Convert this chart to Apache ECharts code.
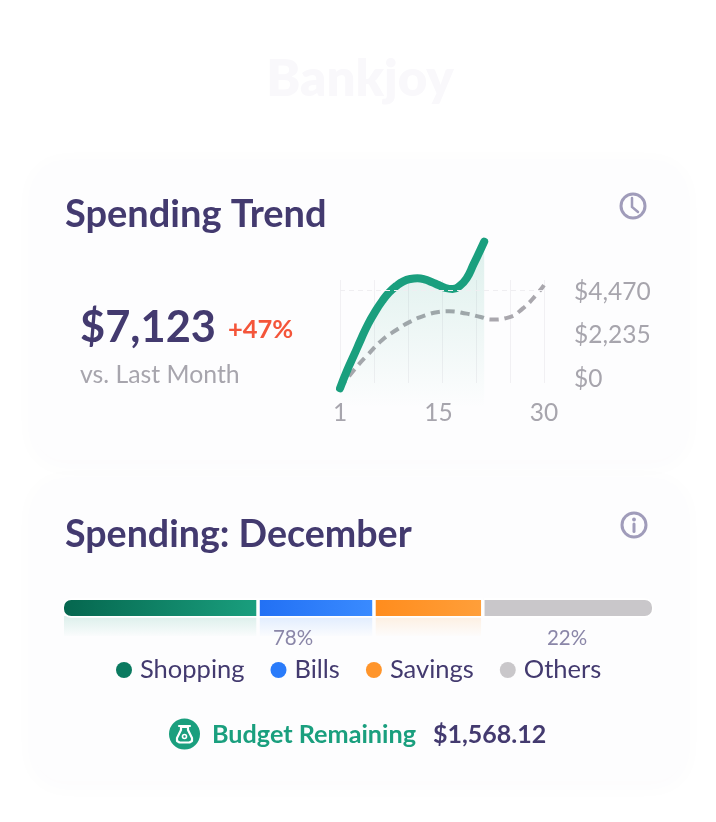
<!DOCTYPE html>
<html>
<head>
<meta charset="utf-8">
<style>html,body{margin:0;padding:0;background:#fff}#c{width:716px;height:822px}</style>
<script src="https://cdn.jsdelivr.net/npm/echarts@6/dist/echarts.min.js"></script>
</head>
<body>
<div id="c"></div>
<script>
// ---- data ----
const currentDays = [1,2,3,4,5,6,7,8,9,10,11,12,13,14,15,16,17,18,19,20,21,21.5];
const currentSpend = [-583,325,1130,1953,2723,3357,3905,4351,4676,4916,5036,5070,5019,4882,4728,4574,4522,4676,5070,5807,6561,6954];
const previousDays = [1,3,5,7,9,11,13,15,16.5,19,21,22.5,25,27,29,30];
const previousSpend = [-582,360,1164,1901,2415,2844,3152,3340,3380,3255,3083,2950,3066,3528,4265,4727];
const dayTicks = [1,15,30];
const spendTicks = [0,2235,4470];
const categories = ['Shopping','Bills','Savings','Others'];
const shares = [33.1,19.6,18.4,28.9];
const shareColors = [['#05664e','#1a9f7e'],['#2270f4','#3a8bff'],['#ff8c1d','#ff9f3a'],['#c9c7ca','#c9c7ca']];
const legendColors = ['#0b7a60','#2a7bfa','#ff952b','#c9c7ca'];
const shareFade = ['26,159,126','58,139,255','255,159,58','255,255,255'];

// ---- style ----
const FONT = 'Lato, "Noto Sans", sans-serif';
const INK = '#433a6f', GREY = '#a7a5ad', GREEN = '#1a9f7e';
const grad = (a,b,horizontal) => new echarts.graphic.LinearGradient(0,0,horizontal?1:0,horizontal?0:1,[{offset:0,color:a},{offset:1,color:b}]);
const txt = (text,x,y,size,weight,fill,align) => ({type:'text',silent:true,z:5,style:{text,x,y,fill,align:align||'left',verticalAlign:'middle',font:`${weight} ${size}px ${FONT}`}});
const card = (y,h) => ({type:'rect',silent:true,z:0,shape:{x:33,y,width:652,height:h,r:30},style:{fill:'#fdfdfe',shadowBlur:24,shadowColor:'rgba(70,60,120,0.025)',shadowOffsetY:4}});

const chart = echarts.init(document.getElementById('c'),null,{renderer:'canvas'});
chart.setOption({
  animation:false,
  backgroundColor:'#fff',
  textStyle:{fontFamily:FONT},
  graphic:[
    card(160,300), card(478,303),
    {type:'text',silent:true,z:1,style:{text:'Bankjoy',x:360,y:80,fill:'#f9f8fb',align:'center',verticalAlign:'middle',font:`800 51px ${FONT}`}},
    txt('Spending Trend',65,215,38,700,INK),
    txt('$7,123',80,328,43.4,700,INK),
    txt('+47%',228,330,25.5,700,'#f4553a'),
    txt('vs. Last Month',80,375,24.8,400,GREY),
    txt('Spending: December',65,535,37.6,700,INK),
    txt('78%',293,638,20.5,400,'#8a86a8','center'),
    txt('22%',567,638,20.5,400,'#8a86a8','center'),
    txt('Budget Remaining',212,735,25.2,700,GREEN),
    txt('$1,568.12',433,735,25,700,INK),
    // clock icon
    {type:'circle',silent:true,z:5,shape:{cx:633,cy:206,r:12},style:{fill:'none',stroke:'#a09cba',lineWidth:3}},
    {type:'polyline',silent:true,z:5,shape:{points:[[632,198],[632,207],[638,212]]},style:{fill:'none',stroke:'#a09cba',lineWidth:2.5,lineCap:'round'}},
    // info icon
    {type:'circle',silent:true,z:5,shape:{cx:634,cy:525,r:12},style:{fill:'none',stroke:'#a09cba',lineWidth:3}},
    {type:'circle',silent:true,z:5,shape:{cx:634,cy:519.5,r:1.9},style:{fill:'#a09cba'}},
    {type:'line',silent:true,z:5,shape:{x1:634,y1:524,x2:634,y2:531.5},style:{stroke:'#a09cba',lineWidth:3,lineCap:'round'}},
    // money bag icon
    {type:'circle',silent:true,z:5,shape:{cx:184.5,cy:734,r:15.5},style:{fill:GREEN}},
    {type:'line',silent:true,z:6,shape:{x1:179,y1:726,x2:190,y2:726},style:{stroke:'#fff',lineWidth:2.2,lineCap:'round'}},
    {type:'polygon',silent:true,z:6,shape:{points:[[181,727],[181,730],[177,738],[177,741],[179.5,742.5],[189.5,742.5],[192,741],[192,738],[188,730],[188,727]]},style:{fill:'none',stroke:'#fff',lineWidth:2.2,lineJoin:'round'}},
    {type:'circle',silent:true,z:6,shape:{cx:184.5,cy:736.5,r:2},style:{fill:'none',stroke:'#fff',lineWidth:1.6}}
  ],
  legend:{
    show:true,left:116,top:657,padding:0,selectedMode:false,icon:'circle',itemWidth:16,itemHeight:16,itemGap:26,
    data:categories,itemStyle:{borderWidth:0},
    textStyle:{color:INK,fontSize:25.5,fontFamily:FONT,padding:[0,0,0,3]}
  },
  grid:[
    {left:340,width:204,top:236.9,height:171.2},
    {left:340,width:204,top:280,height:103},
    {left:62.25,width:591.5,top:598.25,height:19.5},
    {left:62.25,width:591.5,top:614.25,height:23.5}
  ],
  xAxis:[
    {gridIndex:0,type:'value',min:1,max:30,show:false},
    {gridIndex:1,type:'value',min:1,max:30,position:'bottom',axisLine:{show:false},splitLine:{show:false},
      axisTick:{show:false,customValues:dayTicks},
      axisLabel:{customValues:dayTicks,color:GREY,fontSize:24.5,margin:18,fontFamily:FONT,hideOverlap:false,showMinLabel:true,showMaxLabel:true}},
    {gridIndex:1,type:'value',min:0,max:6,interval:1,position:'top',axisLine:{show:false},axisTick:{show:false},axisLabel:{show:false},
      splitLine:{show:true,lineStyle:{color:'#f1f0f3',width:1}}},
    {gridIndex:2,type:'value',min:0,max:100,show:false},
    {gridIndex:3,type:'value',min:0,max:100,show:false}
  ],
  yAxis:[
    {gridIndex:0,type:'value',min:-1600,max:7200,position:'right',axisLine:{show:false},splitLine:{show:false},
      axisTick:{show:false,customValues:spendTicks},
      axisLabel:{customValues:spendTicks,margin:30,align:'left',
        formatter:v=>'{a|$'+v.toLocaleString('en-US')+'}',
        rich:{a:{color:GREY,fontSize:24.5,fontFamily:FONT,padding:[4,0,0,0]}}}},
    {gridIndex:1,type:'value',min:0,max:1,show:false},
    {gridIndex:2,type:'category',data:['share'],show:false},
    {gridIndex:3,type:'category',data:['share'],show:false}
  ],
  series:[
    {name:'Last month',type:'line',xAxisIndex:0,yAxisIndex:0,data:previousDays.map((d,i)=>[d,previousSpend[i]]),
      smooth:0.5,symbol:'none',clip:false,z:3,
      lineStyle:{color:'#a9a7ad',width:4,type:[9,6],cap:'butt'},
      markLine:{silent:true,symbol:'none',label:{show:false},data:[{yAxis:4470}],lineStyle:{color:'#efeef1',width:1,type:[5,4]}}},
    {name:'This month',type:'line',xAxisIndex:0,yAxisIndex:0,data:currentDays.map((d,i)=>[d,currentSpend[i]]),
      smooth:0.5,symbol:'none',clip:false,z:4,
      lineStyle:{color:GREEN,width:8,cap:'round',join:'round'},
      areaStyle:{origin:'start',color:grad('rgba(26,159,126,0.2)','rgba(26,159,126,0)')}},
    ...categories.map((name,i)=>({
      name,type:'bar',xAxisIndex:3,yAxisIndex:2,stack:'share',barWidth:19.5,z:3,
      itemStyle:{color:legendColors[i]},
      data:[{value:shares[i],itemStyle:{color:grad(shareColors[i][0],shareColors[i][1],true),borderColor:'#fff',borderWidth:1.75,
        borderRadius:i===0?[8,0,0,8]:i===categories.length-1?[0,8,8,0]:0}}]
    })),
    ...categories.map((name,i)=>({
      name,type:'bar',xAxisIndex:4,yAxisIndex:3,stack:'fade',barWidth:23.5,z:2,
      itemStyle:{color:grad(`rgba(${shareFade[i]},0.16)`,`rgba(${shareFade[i]},0)`),borderColor:'rgba(0,0,0,0)',borderWidth:3.5},
      data:[shares[i]]
    }))
  ]
});
</script>
</body>
</html>
